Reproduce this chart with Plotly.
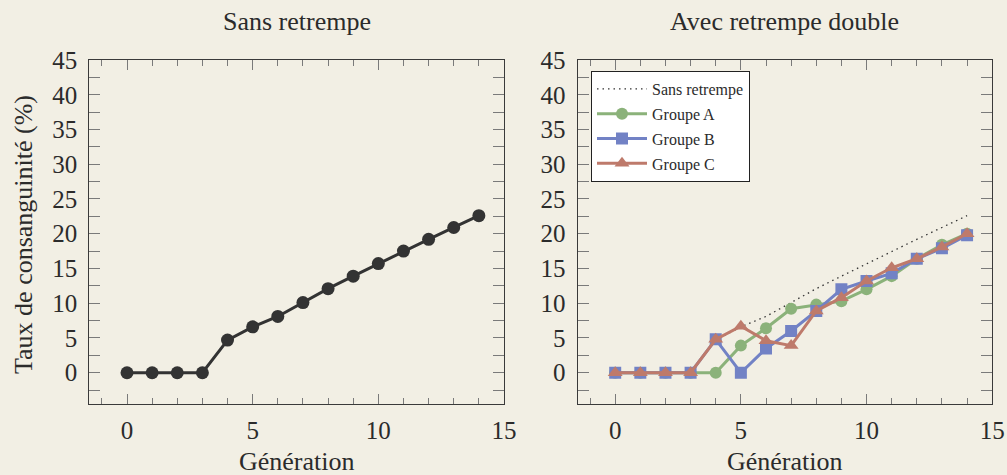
import plotly.graph_objects as go

generations = list(range(15))
sans_retrempe = [0, 0, 0, 0, 4.7, 6.6, 8.1, 10.1, 12.1, 13.9, 15.7, 17.5, 19.2, 20.9, 22.6]
groupe_a = [0, 0, 0, 0, 0, 3.9, 6.4, 9.2, 9.8, 10.3, 12.0, 13.9, 16.4, 18.4, 20.0]
groupe_b = [0, 0, 0, 0, 4.8, 0, 3.5, 6.0, 8.9, 12.0, 13.2, 14.3, 16.4, 17.9, 19.8]
groupe_c = [0, 0, 0, 0, 4.8, 6.7, 4.6, 3.9, 8.9, 10.8, 13.2, 15.1, 16.4, 18.1, 20.0]

x_ticks = [0, 5, 10, 15]
y_ticks = [0, 5, 10, 15, 20, 25, 30, 35, 40, 45]

titles = ["Sans retrempe", "Avec retrempe double"]
x_title = "Génération"
y_title = "Taux de consanguinité (%)"
legend_names = ["Sans retrempe", "Groupe A", "Groupe B", "Groupe C"]

BG = "#F2EFE4"
FONT = "Liberation Serif"
TXT = "#2b2b2b"
DARK = "#333333"
GREEN = "#8BB27A"
BLUE = "#7282C5"
RED = "#BE7A6B"

W, H = 1007, 475
def px(x):
    return x / W
def py(y):
    return 1 - y / H

xd1 = [px(89.3), px(504.0)]
xd2 = [px(577.5), px(992.2)]
yd = [py(404), py(60)]

fig = go.Figure()

fig.add_trace(go.Scatter(x=generations, y=sans_retrempe, mode="lines+markers",
                         line=dict(color=DARK, width=3),
                         marker=dict(color=DARK, size=13, symbol="circle"),
                         showlegend=False, xaxis="x", yaxis="y"))

fig.add_trace(go.Scatter(x=generations, y=sans_retrempe, mode="lines", name=legend_names[0],
                         legendgroup="s",
                         line=dict(color=DARK, width=1.3, dash="1.5px,4px"),
                         xaxis="x2", yaxis="y2"))
fig.add_trace(go.Scatter(x=generations, y=groupe_a, mode="lines+markers", name=legend_names[1],
                         legendgroup="a",
                         line=dict(color=GREEN, width=3),
                         marker=dict(color=GREEN, size=12, symbol="circle"),
                         xaxis="x2", yaxis="y2"))
fig.add_trace(go.Scatter(x=generations, y=groupe_b, mode="lines+markers", name=legend_names[2],
                         legendgroup="b",
                         line=dict(color=BLUE, width=3),
                         marker=dict(color=BLUE, size=12, symbol="square"),
                         xaxis="x2", yaxis="y2"))
fig.add_trace(go.Scatter(x=generations, y=groupe_c, mode="lines+markers", name=legend_names[3],
                         legendgroup="c",
                         line=dict(color=RED, width=3),
                         marker=dict(color=RED, size=13, symbol="triangle-up"),
                         xaxis="x2", yaxis="y2"))

def xaxis(domain, anchor):
    return dict(domain=domain, anchor=anchor, range=[-1.5, 15], automargin=False,
                tickvals=x_ticks, ticks="inside", ticklen=10, tickcolor="#7a7a7a",
                tickwidth=1, showline=True, linecolor="#3a3a3a", linewidth=1.2,
                mirror="ticks", showgrid=False, zeroline=False,
                tickfont=dict(family=FONT, size=25, color=TXT),
                minor=dict(dtick=1, ticklen=6, ticks="inside", tickcolor="#7a7a7a", showgrid=False),
                ticklabelstandoff=4)

def yaxis(anchor):
    return dict(domain=yd, anchor=anchor, range=[-4.5, 45], automargin=False,
                tickvals=y_ticks, ticks="inside", ticklen=11, tickcolor="#7a7a7a",
                tickwidth=1, showline=True, linecolor="#3a3a3a", linewidth=1.2,
                mirror="ticks", showgrid=False, zeroline=False,
                tickfont=dict(family=FONT, size=25, color=TXT),
                minor=dict(dtick=2.5, ticklen=11, ticks="inside", tickcolor="#7a7a7a", showgrid=False),
                ticklabelstandoff=6)

fig.update_layout(
    width=W, height=H,
    paper_bgcolor=BG, plot_bgcolor=BG,
    margin=dict(l=0, r=0, t=0, b=0, pad=0),
    xaxis=xaxis(xd1, "y"),
    yaxis=yaxis("x"),
    xaxis2=xaxis(xd2, "y2"),
    yaxis2=yaxis("x2"),
    showlegend=True,
    legend=dict(x=px(591), y=py(71), xanchor="left", yanchor="top",
                bgcolor="white", bordercolor="#222222", borderwidth=1,
                traceorder="grouped", tracegroupgap=1, itemwidth=50,
                font=dict(family=FONT, size=16, color=TXT)),
    font=dict(family=FONT, color=TXT),
)

ann = []
for t, d in zip(titles, (xd1, xd2)):
    ann.append(dict(text=t, x=(d[0] + d[1]) / 2, y=py(21), xref="paper", yref="paper",
                    showarrow=False, font=dict(family=FONT, size=26, color=TXT),
                    xanchor="center", yanchor="middle"))
for d in (xd1, xd2):
    ann.append(dict(text=x_title, x=(d[0] + d[1]) / 2, y=py(461), xref="paper", yref="paper",
                    showarrow=False, font=dict(family=FONT, size=26, color=TXT),
                    xanchor="center", yanchor="middle"))
ann.append(dict(text=y_title, x=px(23), y=py(235), xref="paper", yref="paper", textangle=-90,
                showarrow=False, font=dict(family=FONT, size=26, color=TXT),
                xanchor="center", yanchor="middle"))
fig.update_layout(annotations=ann)

fig.write_html("out.html", config={"displayModeBar": False},
               post_script="document.body.style.margin='0';document.body.style.background='%s';" % BG)
